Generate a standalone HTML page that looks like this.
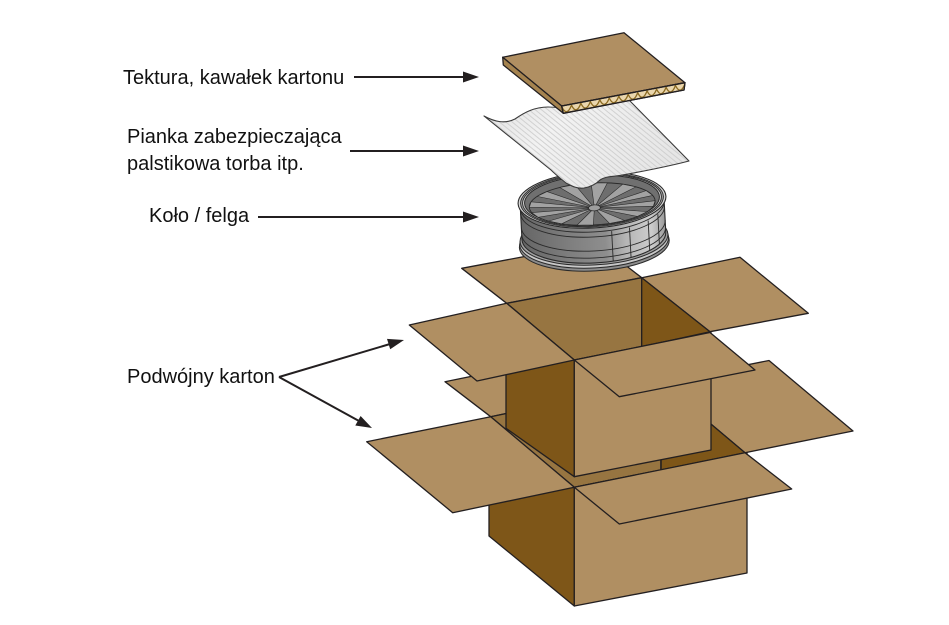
<!DOCTYPE html>
<html>
<head>
<meta charset="utf-8">
<style>
html,body{margin:0;padding:0;background:#fff;}
svg{display:block;}
text{font-family:"Liberation Sans",Arial,sans-serif;font-size:20px;fill:#111;}
</style>
</head>
<body>
<svg width="949" height="625" viewBox="0 0 949 625" xmlns="http://www.w3.org/2000/svg">
<defs>
  <linearGradient id="barrel" x1="0" y1="0" x2="1" y2="0">
    <stop offset="0" stop-color="#666"/>
    <stop offset="0.35" stop-color="#808080"/>
    <stop offset="0.58" stop-color="#8e8e8e"/>
    <stop offset="0.72" stop-color="#b5b5b5"/>
    <stop offset="0.9" stop-color="#cdcdcd"/>
    <stop offset="1" stop-color="#9a9a9a"/>
  </linearGradient>
  <linearGradient id="foamg" x1="0" y1="0" x2="1" y2="0.4">
    <stop offset="0" stop-color="#e2e2e2"/>
    <stop offset="0.4" stop-color="#f2f2f2"/>
    <stop offset="1" stop-color="#e6e6e6"/>
  </linearGradient>
  <pattern id="fl" patternUnits="userSpaceOnUse" width="10" height="4" patternTransform="rotate(39)">
    <line x1="0" y1="0.5" x2="10" y2="0.5" stroke="#cacaca" stroke-width="0.8"/>
  </pattern>
</defs>
<rect width="949" height="625" fill="#fff"/>

<g stroke="#231f20" stroke-width="1.3" stroke-linejoin="round">
  <!-- OUTER (lower) BOX -->
  <polygon points="661,382 769,360.5 853,431 745,452.7" fill="#b08f62"/>
  <polygon points="490.7,416.7 445,381.7 615.7,347 661,382" fill="#b08f62"/>
  <polygon points="490.7,416.7 661,382 661,470 574.3,487.3" fill="#977541"/>
  <polygon points="661,382 745,452.7 661,470" fill="#7e5618"/>
  <line x1="661" y1="382" x2="661" y2="470"/>
  <polygon points="489,417 489,536 574.3,606 574.3,487.3" fill="#7e5618"/>
  <polygon points="574.3,487.3 747,452.7 747,573 574.3,606" fill="#b08f62"/>
  <polygon points="366.7,441.7 490.7,416.7 574.3,487.3 452.7,512.7" fill="#b08f62"/>
  <polygon points="574.3,487.3 745,452.7 791.7,489 619.3,524" fill="#b08f62"/>

  <!-- INNER (upper) BOX -->
  <polygon points="461.7,268.3 596.7,243 641.7,277.7 506.7,303.3" fill="#b08f62"/>
  <polygon points="641.7,277.7 740,257.3 808.3,313.3 710,331.7" fill="#b08f62"/>
  <polygon points="506.7,303.3 641.7,277.7 641.7,346.7 574.3,360" fill="#977541"/>
  <polygon points="641.7,277.7 710,331.7 641.7,346.7" fill="#7e5618"/>
  <polygon points="506,303.3 506,428.3 574.3,476.7 574.3,360" fill="#7e5618"/>
  <polygon points="574.3,360 711,332.5 711,450 574.3,476.7" fill="#b08f62"/>
  <polygon points="409.3,325 506.7,303.3 574.3,360 477,381" fill="#b08f62"/>
  <polygon points="574.3,360 710,332.5 755,370 619.3,396.7" fill="#b08f62"/>
</g>

<!-- WHEEL -->
<g transform="translate(592,200) rotate(-3)" stroke="#2a2a2a" stroke-linejoin="round">
  <ellipse cx="0" cy="44" rx="75" ry="27" fill="#8c8c8c" stroke-width="1"/>
  <ellipse cx="0" cy="41" rx="74.5" ry="27" fill="#c8c8c8" stroke-width="1"/>
  <ellipse cx="0" cy="38" rx="74" ry="27" fill="#a0a0a0" stroke-width="1"/>
  <path d="M-72,0 A72,27 0 0 0 72,0 L72,36 A72,27 0 0 1 -72,36 Z" fill="url(#barrel)" stroke-width="1.1"/>
  <g fill="none" stroke-width="0.9">
    <path d="M-72,5 A72,27 0 0 0 72,5"/>
    <path d="M-72,10 A72,27 0 0 0 72,10"/>
    <path d="M-72,24 A72,27 0 0 0 72,24"/>
    <path d="M-72,31 A72,27 0 0 0 72,31"/>
    <line x1="18" y1="32.1" x2="18" y2="62.1"/>
    <line x1="36" y1="29.4" x2="36" y2="59.4"/>
    <line x1="55" y1="23.4" x2="55" y2="53.4"/>
    <line x1="65" y1="17.6" x2="65" y2="47.6"/>
  </g>
  <!-- top rim -->
  <ellipse cx="0" cy="0" rx="74" ry="28" fill="#d6d6d6" stroke-width="1.1"/>
  <ellipse cx="0" cy="0" rx="71.5" ry="26.8" fill="#9c9c9c" stroke-width="0.9"/>
  <ellipse cx="0" cy="0" rx="69.5" ry="25.8" fill="#d0d0d0" stroke-width="0.9"/>
  <ellipse cx="0" cy="0" rx="67.5" ry="24.8" fill="#707070" stroke-width="1"/>
  <!-- spoke face -->
  <ellipse cx="0" cy="4" rx="63" ry="21" fill="#6e6e6e" stroke-width="0.9"/>
  <g fill="#a2a2a2" stroke-width="0.6">
    <polygon points="2,8 63,4 60.9,9.4"/>
    <polygon points="2,8 54.6,14.5 44.5,18.8"/>
    <polygon points="2,8 31.5,22.2 16.3,24.3"/>
    <polygon points="2,8 0,25 -16.3,24.3"/>
    <polygon points="2,8 -31.5,22.2 -44.5,18.8"/>
    <polygon points="2,8 -54.6,14.5 -60.9,9.4"/>
    <polygon points="2,8 -63,4 -60.9,-1.4"/>
    <polygon points="2,8 -54.6,-6.5 -44.5,-10.8"/>
    <polygon points="2,8 -31.5,-14.2 -16.3,-16.3"/>
    <polygon points="2,8 0,-17 16.3,-16.3"/>
    <polygon points="2,8 31.5,-14.2 44.5,-10.8"/>
    <polygon points="2,8 54.6,-6.5 60.9,-1.4"/>
  </g>
  <ellipse cx="2" cy="8" rx="6" ry="3" fill="#9d9d9d" stroke-width="0.8"/>
</g>

<!-- FOAM SHEET -->
<path d="M484,116 C495,122 505,124 515,119 C525,112 535,107 548,107 C556,107 562,108 570,110 L628,99 L689,161 C670,166 640,172 622,175 C612,177 606,176 600,180 C596,184 590,187 584,188 C577,189 572,186 566,183 C560,178 556,175 551,170 Z" fill="url(#foamg)"/>
<path d="M484,116 C495,122 505,124 515,119 C525,112 535,107 548,107 C556,107 562,108 570,110 L628,99 L689,161 C670,166 640,172 622,175 C612,177 606,176 600,180 C596,184 590,187 584,188 C577,189 572,186 566,183 C560,178 556,175 551,170 Z" fill="url(#fl)" stroke="#3a3a3a" stroke-width="1.1" stroke-linejoin="round"/>

<!-- CARDBOARD PIECE -->
<g stroke="#231f20" stroke-width="1.3" stroke-linejoin="round">
  <polygon points="502.7,57.3 624,32.7 685,82.7 561.7,106" fill="#b08f62"/>
  <polygon points="502.7,57.3 561.7,106 563.3,113.3 503.3,65" fill="#a5834f"/>
  <polygon points="561.7,106 685,82.7 684,90 563.3,113.3" fill="#ead6ad"/>
</g>
<path d="M562,107 Q566.7,117.1 571.5,105.2 Q576.2,115.3 580.9,103.4 Q585.7,113.5 590.4,101.6 Q595.1,111.7 599.8,99.8 Q604.6,109.9 609.3,98.0 Q614.0,108.1 618.8,96.2 Q623.5,106.4 628.2,94.5 Q633.0,104.6 637.7,92.7 Q642.4,102.8 647.1,90.9 Q651.9,101.0 656.6,89.1 Q661.3,99.2 666.1,87.3 Q670.8,97.4 675.5,85.5 Q680.3,95.6 685,83.7" fill="none" stroke="#8b6a22" stroke-width="1.3"/>
<polygon points="561.7,106 685,82.7 684,90 563.3,113.3" fill="none" stroke="#231f20" stroke-width="1.3" stroke-linejoin="round"/>

<!-- LABELS -->
<text x="123" y="84">Tektura, kawałek kartonu</text>
<text x="127" y="143">Pianka zabezpieczająca</text>
<text x="127" y="170">palstikowa torba itp.</text>
<text x="149" y="222">Koło / felga</text>
<text x="127" y="383">Podwójny karton</text>

<!-- ARROWS -->
<g stroke="#231f20" stroke-width="2" fill="none">
  <line x1="354" y1="77" x2="466" y2="77"/>
  <line x1="350" y1="151" x2="466" y2="151"/>
  <line x1="258" y1="217" x2="466" y2="217"/>
  <line x1="279" y1="377" x2="390" y2="344"/>
  <line x1="279" y1="377" x2="359" y2="421"/>
</g>
<g fill="#231f20">
  <polygon points="479,77 463,71.5 463,82.5"/>
  <polygon points="479,151 463,145.5 463,156.5"/>
  <polygon points="479,217 463,211.5 463,222.5"/>
  <polygon points="404,340 390.2,349.3 387,338.9"/>
  <polygon points="372,428 355.3,425.5 360.6,416"/>
</g>
</svg>
</body>
</html>
